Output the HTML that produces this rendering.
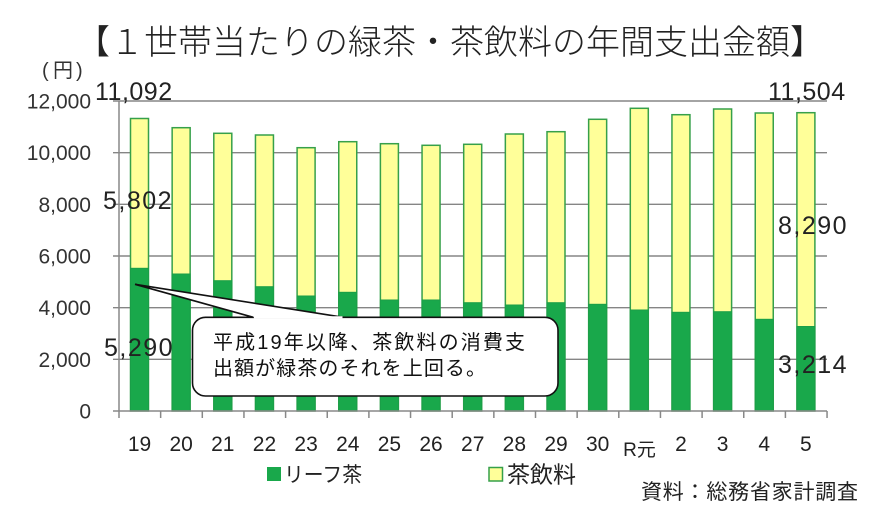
<!DOCTYPE html>
<html><head><meta charset="utf-8"><style>
html,body{margin:0;padding:0;background:#fff;}
svg{display:block;font-family:"Liberation Sans","Noto Sans CJK JP",sans-serif;}
</style></head><body>
<svg width="878" height="516" viewBox="0 0 878 516" xmlns="http://www.w3.org/2000/svg">
<rect width="878" height="516" fill="#fff"/>
<!-- title -->
<text x="76" y="54" font-size="34" font-weight="300" fill="#222" textLength="748" lengthAdjust="spacing">【１世帯当たりの緑茶・茶飲料の年間支出金額】</text>
<!-- unit -->
<text x="42" y="77" font-size="20" fill="#333">(</text>
<text x="53" y="77" font-size="20" fill="#333">円</text>
<text x="76" y="77" font-size="20" fill="#333">)</text>
<!-- gridlines -->
<g stroke="#858585" stroke-width="1.4">
<line x1="113" y1="101" x2="827" y2="101"/>
<line x1="113" y1="152.67" x2="827" y2="152.67"/>
<line x1="113" y1="204.33" x2="827" y2="204.33"/>
<line x1="113" y1="256" x2="827" y2="256"/>
<line x1="113" y1="307.67" x2="827" y2="307.67"/>
<line x1="113" y1="359.33" x2="827" y2="359.33"/>
</g>
<!-- bars -->
<g stroke="#36a04a" stroke-width="1.5">
<rect x="130.5" y="118.5" width="18" height="292.5" fill="#ffff99"/>
<rect x="172.15" y="127.7" width="18" height="283.3" fill="#ffff99"/>
<rect x="213.8" y="133.3" width="18" height="277.7" fill="#ffff99"/>
<rect x="255.45" y="135" width="18" height="276" fill="#ffff99"/>
<rect x="297.1" y="147.7" width="18" height="263.3" fill="#ffff99"/>
<rect x="338.75" y="141.7" width="18" height="269.3" fill="#ffff99"/>
<rect x="380.4" y="143.7" width="18" height="267.3" fill="#ffff99"/>
<rect x="422.05" y="145.3" width="18" height="265.7" fill="#ffff99"/>
<rect x="463.7" y="144.3" width="18" height="266.7" fill="#ffff99"/>
<rect x="505.35" y="134" width="18" height="277" fill="#ffff99"/>
<rect x="547" y="131.7" width="18" height="279.3" fill="#ffff99"/>
<rect x="588.65" y="119.3" width="18" height="291.7" fill="#ffff99"/>
<rect x="630.3" y="108.3" width="18" height="302.7" fill="#ffff99"/>
<rect x="671.95" y="114.7" width="18" height="296.3" fill="#ffff99"/>
<rect x="713.6" y="109" width="18" height="302" fill="#ffff99"/>
<rect x="755.25" y="113" width="18" height="298" fill="#ffff99"/>
<rect x="796.9" y="112.7" width="18" height="298.3" fill="#ffff99"/>
</g>
<g fill="#19a84b" stroke="#1a9e48" stroke-width="1">
<rect x="130.5" y="268.3" width="18" height="142.7"/>
<rect x="172.15" y="274" width="18" height="137"/>
<rect x="213.8" y="280.7" width="18" height="130.3"/>
<rect x="255.45" y="286.7" width="18" height="124.3"/>
<rect x="297.1" y="296" width="18" height="115"/>
<rect x="338.75" y="292.3" width="18" height="118.7"/>
<rect x="380.4" y="300" width="18" height="111"/>
<rect x="422.05" y="300" width="18" height="111"/>
<rect x="463.7" y="302.7" width="18" height="108.3"/>
<rect x="505.35" y="305" width="18" height="106"/>
<rect x="547" y="302.7" width="18" height="108.3"/>
<rect x="588.65" y="304.3" width="18" height="106.7"/>
<rect x="630.3" y="310" width="18" height="101"/>
<rect x="671.95" y="312.3" width="18" height="98.7"/>
<rect x="713.6" y="311.7" width="18" height="99.3"/>
<rect x="755.25" y="319.3" width="18" height="91.7"/>
<rect x="796.9" y="326.5" width="18" height="84.5"/>
</g>
<!-- axes -->
<g stroke="#888" stroke-width="1.5">
<line x1="119" y1="101" x2="119" y2="411"/>
<line x1="113" y1="411" x2="827" y2="411"/>
<line x1="119" y1="411" x2="119" y2="418"/>
<line x1="160.65" y1="411" x2="160.65" y2="418"/>
<line x1="202.3" y1="411" x2="202.3" y2="418"/>
<line x1="243.95" y1="411" x2="243.95" y2="418"/>
<line x1="285.6" y1="411" x2="285.6" y2="418"/>
<line x1="327.25" y1="411" x2="327.25" y2="418"/>
<line x1="368.9" y1="411" x2="368.9" y2="418"/>
<line x1="410.55" y1="411" x2="410.55" y2="418"/>
<line x1="452.2" y1="411" x2="452.2" y2="418"/>
<line x1="493.85" y1="411" x2="493.85" y2="418"/>
<line x1="535.5" y1="411" x2="535.5" y2="418"/>
<line x1="577.15" y1="411" x2="577.15" y2="418"/>
<line x1="618.8" y1="411" x2="618.8" y2="418"/>
<line x1="660.45" y1="411" x2="660.45" y2="418"/>
<line x1="702.1" y1="411" x2="702.1" y2="418"/>
<line x1="743.75" y1="411" x2="743.75" y2="418"/>
<line x1="785.4" y1="411" x2="785.4" y2="418"/>
<line x1="827.05" y1="411" x2="827.05" y2="418"/>
</g>
<!-- y labels -->
<g font-size="21" fill="#333" text-anchor="end">
<text x="91" y="108.5">12,000</text>
<text x="91" y="160.2">10,000</text>
<text x="91" y="211.8">8,000</text>
<text x="91" y="263.5">6,000</text>
<text x="91" y="315.2">4,000</text>
<text x="91" y="366.8">2,000</text>
<text x="91" y="418.5">0</text>
</g>
<!-- x labels -->
<g font-size="21" fill="#222" text-anchor="middle">
<text x="139.5" y="451">19</text>
<text x="181.15" y="451">20</text>
<text x="222.8" y="451">21</text>
<text x="264.45" y="451">22</text>
<text x="306.1" y="451">23</text>
<text x="347.75" y="451">24</text>
<text x="389.4" y="451">25</text>
<text x="431.05" y="451">26</text>
<text x="472.7" y="451">27</text>
<text x="514.35" y="451">28</text>
<text x="556" y="451">29</text>
<text x="597.65" y="451">30</text>
<text x="639.5" y="456" font-size="19">R元</text>
<text x="680.95" y="451">2</text>
<text x="722.6" y="451">3</text>
<text x="764.25" y="451">4</text>
<text x="805.9" y="451">5</text>
</g>
<!-- callout -->
<path d="M135,284.3 L253.3,318 L343.3,318 Z" fill="#fff" stroke="none"/>
<rect x="192.5" y="317.3" width="365.5" height="78.7" rx="13" ry="13" fill="#fff" stroke="#111" stroke-width="1.6"/>
<path d="M253.3,317.3 L135,284.3 L343.3,317.3" fill="#fff" stroke="#111" stroke-width="1.6"/>
<line x1="254" y1="317.3" x2="342.5" y2="317.3" stroke="#fff" stroke-width="2.2"/>
<text x="213" y="349" font-size="20" fill="#111" textLength="312" lengthAdjust="spacing">平成19年以降、茶飲料の消費支</text>
<text x="213" y="375" font-size="20" fill="#111" textLength="273" lengthAdjust="spacing">出額が緑茶のそれを上回る。</text>
<!-- data labels -->
<g font-size="25" fill="#222">
<text x="95" y="100" letter-spacing="0.5">11,092</text>
<text x="768" y="100" letter-spacing="0.5">11,504</text>
<text x="103" y="209" letter-spacing="1.5">5,802</text>
<text x="778" y="234" letter-spacing="1.5">8,290</text>
<text x="104" y="356" letter-spacing="1.5">5,290</text>
<text x="778" y="373" letter-spacing="1.5">3,214</text>
</g>
<!-- legend -->
<rect x="267" y="467" width="14" height="14" fill="#19a84b"/>
<text x="284" y="482" font-size="21" fill="#222" textLength="78" lengthAdjust="spacingAndGlyphs">リーフ茶</text>
<rect x="489" y="467.5" width="13.5" height="13.5" fill="#ffff99" stroke="#36a04a" stroke-width="1.5"/>
<text x="507" y="482.5" font-size="23" fill="#222">茶飲料</text>
<!-- source -->
<text x="641" y="499" font-size="21" fill="#222" textLength="217" lengthAdjust="spacing">資料：総務省家計調査</text>
</svg>
</body></html>
